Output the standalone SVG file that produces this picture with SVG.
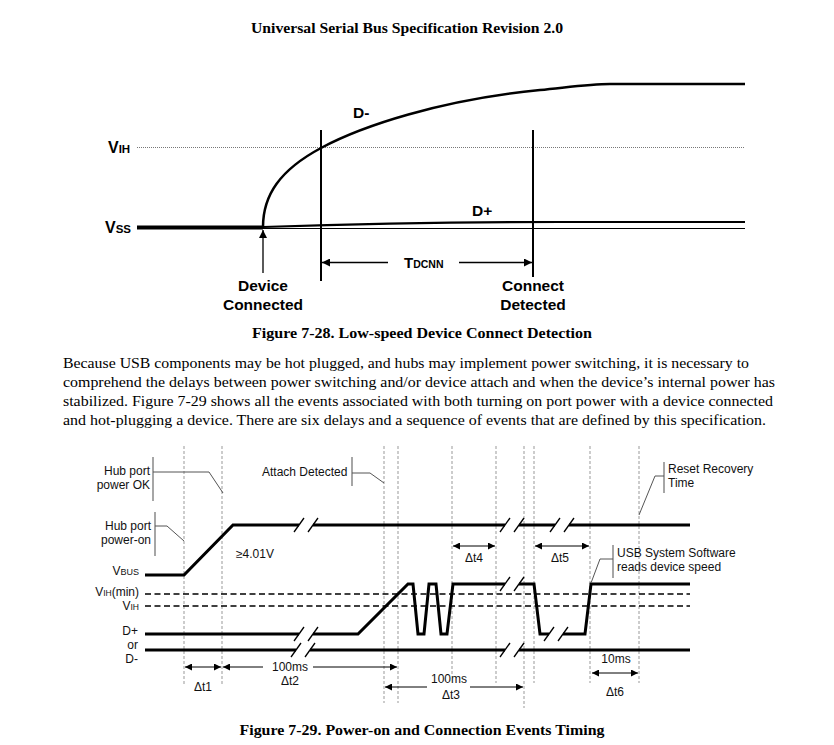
<svg xmlns="http://www.w3.org/2000/svg" width="834" height="745" viewBox="0 0 834 745">
<style>
.hdr{font-family:"Liberation Serif","Times New Roman",serif;font-weight:bold;font-size:14.5px;text-anchor:middle;fill:#000}
.para{font-family:"Liberation Serif","Times New Roman",serif;font-size:14.5px;fill:#000}
.lb{font-family:"Liberation Sans",Arial,sans-serif;font-weight:bold;font-size:15.5px;fill:#000}
.ls{font-family:"Liberation Sans",Arial,sans-serif;font-size:12px;fill:#111}
.mid{text-anchor:middle}
.end{text-anchor:end}
.vd{stroke:#999;stroke-width:1;stroke-dasharray:3 2;fill:none}
.thick{stroke:#000;stroke-width:3;fill:none;stroke-linejoin:miter}
.hd{stroke:#000;stroke-width:1.3;stroke-dasharray:6 3.5;fill:none}
.ld{stroke:#555;stroke-width:1;fill:none}
.bar{stroke:#888;stroke-width:1.5}
.ar{stroke:#000;stroke-width:1;fill:none}
.brk line{stroke:#000;stroke-width:1.3}
</style>
<defs>
<marker id="ah" viewBox="0 0 10 10" refX="10" refY="5" markerWidth="10" markerHeight="8" markerUnits="userSpaceOnUse" orient="auto-start-reverse"><path d="M0,0 L10,5 L0,10 z" fill="#000"/></marker>
<marker id="ahs" viewBox="0 0 10 10" refX="10" refY="5" markerWidth="9" markerHeight="7" markerUnits="userSpaceOnUse" orient="auto-start-reverse"><path d="M0,0 L10,5 L0,10 z" fill="#000"/></marker>
<g id="brk" class="brk"><rect x="-7" y="-3" width="14" height="6" fill="#fff"/><line x1="-12" y1="7" x2="-2" y2="-7"/><line x1="2" y1="7" x2="12" y2="-7"/></g>
</defs>
<rect width="834" height="745" fill="#fff"/>

<text class="hdr" x="407" y="33" textLength="312" lengthAdjust="spacingAndGlyphs">Universal Serial Bus Specification Revision 2.0</text>

<!-- Figure 7-28 -->
<g id="fig28">
  <g id="labels28">
    <text class="lb" x="108" y="153"><tspan font-size="16">V</tspan><tspan font-size="11.5">IH</tspan></text>
    <text class="lb" x="105" y="233"><tspan font-size="16">V</tspan><tspan font-size="11.5">SS</tspan></text>
    <text class="lb" x="353" y="118">D-</text>
    <text class="lb" x="472" y="216">D+</text>
    <text class="lb mid" x="263" y="291">Device</text>
    <text class="lb mid" x="263" y="310">Connected</text>
    <text class="lb mid" x="533" y="291">Connect</text>
    <text class="lb mid" x="533" y="310">Detected</text>
    <text class="lb" x="404" y="268"><tspan font-size="15">T</tspan><tspan font-size="10.5">DCNN</tspan></text>
  </g>
  <g id="signals28">
    <line x1="137" y1="147.5" x2="745" y2="147.5" stroke="#777" stroke-width="1" stroke-dasharray="1 1"/>
    <line x1="137" y1="227.5" x2="263" y2="227.5" stroke="#000" stroke-width="4"/>
    <line x1="263" y1="228.5" x2="745" y2="228.5" stroke="#000" stroke-width="1.2"/>
    <path d="M263,227 Q420,222 560,222 L745,222" fill="none" stroke="#000" stroke-width="2.2"/>
    <path d="M263,227 C263,195 280,170 321,148 C362,126 440,100 540,90 C570,87 590,84 610,84 L745,84" fill="none" stroke="#000" stroke-width="2.5"/>
    <line x1="321" y1="130" x2="321" y2="281" stroke="#000" stroke-width="2"/>
    <line x1="533" y1="130" x2="533" y2="277" stroke="#000" stroke-width="2"/>
    <line x1="263" y1="273" x2="263" y2="230" stroke="#000" stroke-width="1.3" marker-end="url(#ah)"/>
    <line x1="388" y1="262.5" x2="322" y2="262.5" stroke="#000" stroke-width="1.3" marker-end="url(#ah)"/>
    <line x1="459" y1="262.5" x2="532" y2="262.5" stroke="#000" stroke-width="1.3" marker-end="url(#ah)"/>
  </g>
</g>

<text class="hdr" x="422" y="338" textLength="340" lengthAdjust="spacingAndGlyphs">Figure 7-28.  Low-speed Device Connect Detection</text>

<g id="paragraph">
  <text class="para" x="63" y="368" textLength="686" lengthAdjust="spacingAndGlyphs">Because USB components may be hot plugged, and hubs may implement power switching, it is necessary to</text>
  <text class="para" x="63" y="387" textLength="712" lengthAdjust="spacingAndGlyphs">comprehend the delays between power switching and/or device attach and when the device’s internal power has</text>
  <text class="para" x="63" y="406" textLength="710" lengthAdjust="spacingAndGlyphs">stabilized.  Figure 7-29 shows all the events associated with both turning on port power with a device connected</text>
  <text class="para" x="63" y="425" textLength="703" lengthAdjust="spacingAndGlyphs">and hot-plugging a device.  There are six delays and a sequence of events that are defined by this specification.</text>
</g>

<!-- Figure 7-29 -->
<g id="fig29">
  <g id="timelines">
    <line class="vd" x1="184" y1="446" x2="184" y2="685"/>
    <line class="vd" x1="222" y1="446" x2="222" y2="685"/>
    <line class="vd" x1="384" y1="446" x2="384" y2="703"/>
    <line class="vd" x1="398" y1="446" x2="398" y2="703"/>
    <line class="vd" x1="452" y1="446" x2="452" y2="675"/>
    <line class="vd" x1="496" y1="446" x2="496" y2="683"/>
    <line class="vd" x1="524" y1="446" x2="524" y2="708"/>
    <line class="vd" x1="534" y1="446" x2="534" y2="683"/>
    <line class="vd" x1="590" y1="446" x2="590" y2="683"/>
    <line class="vd" x1="639" y1="446" x2="639" y2="683"/>
  </g>
  <g id="levels">
    <line class="hd" x1="145" y1="594" x2="690" y2="594"/>
    <line class="hd" x1="145" y1="606" x2="690" y2="606"/>
  </g>
  <g id="vbus">
    <path class="thick" d="M145,575 L184,575 L233,525 L690,525"/>
    <use href="#brk" x="306" y="525"/>
    <use href="#brk" x="512" y="525"/>
    <use href="#brk" x="562" y="525"/>
  </g>
  <g id="dplus">
    <path class="thick" d="M145,634 L358,634 L408,584 L413,584 L418,634 L424,634 L429,584 L436,584 L441,634 L447,634 L453,584 L534,584 L540,634 L585,634 L591,584 L690,584"/>
    <use href="#brk" x="306" y="634"/>
    <use href="#brk" x="512" y="584"/>
    <use href="#brk" x="556" y="634"/>
  </g>
  <g id="dminus">
    <line class="thick" x1="145" y1="650" x2="690" y2="650"/>
    <use href="#brk" x="303" y="650"/>
    <use href="#brk" x="512" y="650"/>
  </g>
  <g id="signal-labels">
    <text class="ls end" x="139" y="575"><tspan>V</tspan><tspan font-size="9">BUS</tspan></text>
    <text class="ls end" x="139" y="596" font-size="11"><tspan>V</tspan><tspan font-size="8.5">IH</tspan><tspan>(min)</tspan></text>
    <text class="ls end" x="139" y="610" font-size="11"><tspan>V</tspan><tspan font-size="8.5">IH</tspan></text>
    <text class="ls end" x="138" y="635">D+</text>
    <text class="ls end" x="138" y="649">or</text>
    <text class="ls end" x="138" y="663">D-</text>
    <text class="ls" x="236" y="558">≥4.01V</text>
  </g>
  <g id="note-power-ok">
    <text class="ls end" x="150" y="475">Hub port</text>
    <text class="ls end" x="150" y="489">power OK</text>
    <line class="bar" x1="153" y1="457" x2="153" y2="501"/>
    <path class="ld" d="M153,472 L209,472 L223,493"/>
  </g>
  <g id="note-power-on">
    <text class="ls end" x="151" y="530">Hub port</text>
    <text class="ls end" x="151" y="544">power-on</text>
    <line class="bar" x1="155" y1="512" x2="155" y2="556"/>
    <path class="ld" d="M155,526 L167,526 L184,541"/>
  </g>
  <g id="note-attach">
    <text class="ls" x="262" y="476">Attach Detected</text>
    <line class="bar" x1="352" y1="457" x2="352" y2="486"/>
    <path class="ld" d="M352,473 L370,473 L384,483"/>
  </g>
  <g id="note-reset">
    <text class="ls" x="668" y="473">Reset Recovery</text>
    <text class="ls" x="668" y="487">Time</text>
    <line class="bar" x1="664" y1="462" x2="664" y2="493"/>
    <path class="ld" d="M664,476 L655,476 L639,515"/>
  </g>
  <g id="note-usb">
    <text class="ls" x="617" y="557">USB System Software</text>
    <text class="ls" x="617" y="571">reads device speed</text>
    <line class="bar" x1="613" y1="545" x2="613" y2="578"/>
    <path class="ld" d="M613,559 L600,559 L591,583"/>
  </g>
  <g id="delays">
    <line class="ar" x1="185" y1="667" x2="221" y2="667" marker-start="url(#ahs)" marker-end="url(#ahs)"/>
    <text class="ls mid" x="203" y="691">Δt1</text>
    <line class="ar" x1="223" y1="667" x2="263" y2="667" marker-start="url(#ahs)"/>
    <text class="ls mid" x="290" y="671">100ms</text>
    <line class="ar" x1="313" y1="667" x2="397" y2="667" marker-end="url(#ahs)"/>
    <text class="ls mid" x="290" y="685">Δt2</text>
    <line class="ar" x1="385" y1="687" x2="427" y2="687" marker-start="url(#ahs)"/>
    <text class="ls mid" x="449" y="683">100ms</text>
    <line class="ar" x1="470" y1="687" x2="523" y2="687" marker-end="url(#ahs)"/>
    <text class="ls mid" x="451" y="699">Δt3</text>
    <line class="ar" x1="453" y1="546" x2="495" y2="546" marker-start="url(#ahs)" marker-end="url(#ahs)"/>
    <text class="ls mid" x="474" y="562">Δt4</text>
    <line class="ar" x1="535" y1="546" x2="589" y2="546" marker-start="url(#ahs)" marker-end="url(#ahs)"/>
    <text class="ls mid" x="560" y="562">Δt5</text>
    <text class="ls mid" x="616" y="663">10ms</text>
    <line class="ar" x1="592" y1="673" x2="638" y2="673" marker-start="url(#ahs)" marker-end="url(#ahs)"/>
    <text class="ls mid" x="615" y="696">Δt6</text>
  </g>
</g>

<text class="hdr" x="422" y="735" textLength="365" lengthAdjust="spacingAndGlyphs">Figure 7-29.  Power-on and Connection Events Timing</text>
</svg>
